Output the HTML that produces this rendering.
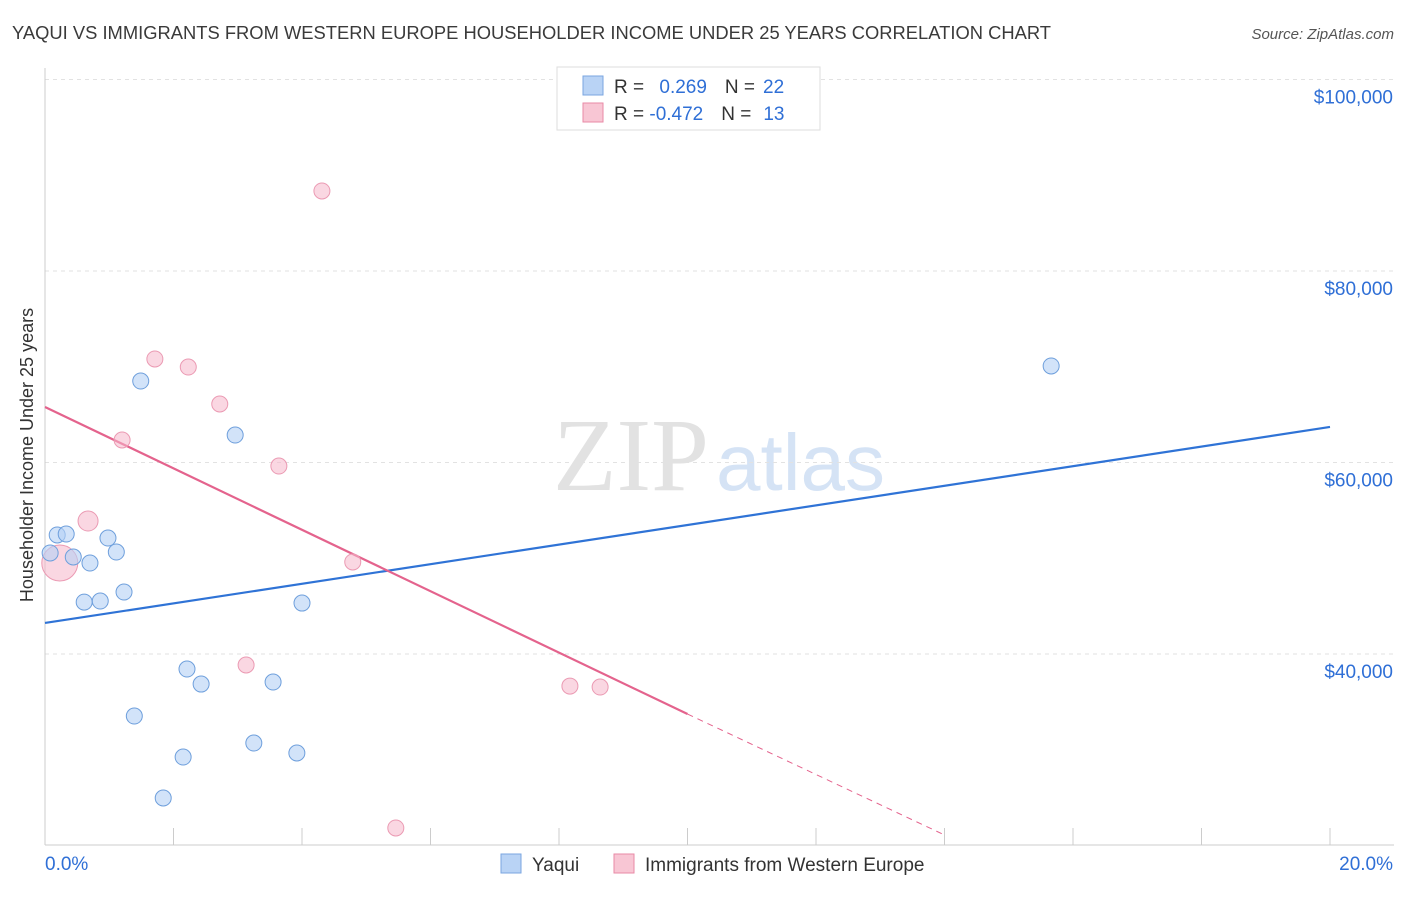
<!DOCTYPE html>
<html><head><meta charset="utf-8"><style>
body{margin:0;background:#fff;font-family:"Liberation Sans",sans-serif;}
svg text{font-family:"Liberation Sans",sans-serif;}
</style></head><body>
<svg id="c" width="1406" height="892" xmlns="http://www.w3.org/2000/svg">
<text x="12" y="39" font-size="18" fill="#3a3a3a" textLength="1039" lengthAdjust="spacingAndGlyphs">YAQUI VS IMMIGRANTS FROM WESTERN EUROPE HOUSEHOLDER INCOME UNDER 25 YEARS CORRELATION CHART</text>
<text x="1394" y="39" font-size="15" fill="#555" text-anchor="end" font-style="italic">Source: ZipAtlas.com</text>
<text x="553" y="490" font-size="104" fill="#e2e2e2" style="font-family:'Liberation Serif',serif">ZIP</text>
<text x="716" y="490" font-size="80" fill="#d5e3f5">atlas</text>
<g id="grid"></g>
<g id="axes"></g>
<g id="lines"></g>
<g id="pts"></g>
<text transform="translate(33,455) rotate(-90)" font-size="18" fill="#333" text-anchor="middle">Householder Income Under 25 years</text>
<g>
<rect x="557" y="67" width="263" height="63" fill="#fff" stroke="#ddd"/>
<rect x="583" y="76" width="20" height="19" fill="#b9d3f5" stroke="#7aa6e0"/>
<rect x="583" y="103" width="20" height="19" fill="#f8c6d4" stroke="#e88aa6"/>
<text x="614" y="93" font-size="19" fill="#333">R = <tspan fill="#2f6fd6" dx="10">0.269</tspan><tspan fill="#333" dx="18">N =</tspan><tspan fill="#2f6fd6" dx="8">22</tspan></text>
<text x="614" y="120" font-size="19" fill="#333">R = <tspan fill="#2f6fd6">-0.472</tspan><tspan fill="#333" dx="18">N =</tspan><tspan fill="#2f6fd6" dx="12">13</tspan></text>
</g>
<g>
<rect x="501" y="854" width="20" height="19" fill="#b9d3f5" stroke="#7aa6e0"/>
<text x="532" y="871" font-size="19" fill="#333">Yaqui</text>
<rect x="614" y="854" width="20" height="19" fill="#f8c6d4" stroke="#e88aa6"/>
<text x="645" y="871" font-size="19" fill="#333">Immigrants from Western Europe</text>
</g>
</svg>
<script>
const yTicks=[40000,60000,80000,100000];
const yTickLabels=["$40,000","$60,000","$80,000","$100,000"];
const xEndLabels=["0.0%","20.0%"];
const blueX=[0.08,0.19,0.33,0.44,0.70,0.61,0.86,0.98,1.11,1.23,1.49,2.96,2.21,2.43,3.55,4.00,1.39,3.25,2.15,3.92,1.84,15.66];
const blueY=[50550,52430,52530,50130,49500,45420,45530,52110,50650,46470,68510,62870,38430,36860,37070,45320,33520,30700,29240,29660,24960,70080];
const pinkX=[0.23,0.67,1.20,1.71,2.23,2.72,3.64,4.31,4.79,3.13,8.17,8.64,5.46];
const pinkY=[49500,53890,62350,70810,69970,66110,59630,88360,49610,38850,36650,36550,21830];
const pinkR=[18,10,8,8,8,8,8,8,8,8,8,8,8];
const blueTrend=[[0,43240],[20,63710]];
const pinkTrend=[[0,65800],[10,33730]];
const pinkDash=[[10,33730],[14,21100]];
const NS="http://www.w3.org/2000/svg";
const sx=v=>45+v*64.25, sy=v=>79.5+(100000-v)/104.44;
function mk(t,a,p){const e=document.createElementNS(NS,t);for(const k in a)e.setAttribute(k,a[k]);p.appendChild(e);return e;}
const g=document.getElementById('grid'),ax=document.getElementById('axes'),ln=document.getElementById('lines'),pt=document.getElementById('pts');
yTicks.forEach((v,i)=>{const l=mk('line',{x1:45,x2:1394,y1:sy(v),y2:sy(v),stroke:'#e2e2e2','stroke-dasharray':'4,4'},g);


const t=mk('text',{x:1393,y:sy(v)+24,'font-size':19,fill:'#2f6fd6','text-anchor':'end'},ax);t.textContent=yTickLabels[i];

});
const topGrid=mk('line',{x1:45,x2:1394,y1:sy(100000),y2:sy(100000),stroke:'#e2e2e2','stroke-dasharray':'4,4'},g);


const xa=mk('line',{x1:45,x2:1394,y1:845,y2:845,stroke:'#ccc'},ax);


const ya=mk('line',{x1:45,x2:45,y1:68,y2:845,stroke:'#ccc'},ax);


for(let i=1;i<=10;i++){const tk=mk('line',{x1:sx(i*2),x2:sx(i*2),y1:828,y2:845,stroke:'#ccc'},ax);

}
[[0,'start'],[20,'end']].forEach((d,i)=>{const t=mk('text',{x:i?1393:45,y:870,'font-size':19,fill:'#2f6fd6','text-anchor':d[1]},ax);t.textContent=xEndLabels[i];

});
const bl=mk('line',{x1:sx(blueTrend[0][0]),y1:sy(blueTrend[0][1]),x2:sx(blueTrend[1][0]),y2:sy(blueTrend[1][1]),stroke:'#2f73d6','stroke-width':2.2},ln);


const pl=mk('line',{x1:sx(pinkTrend[0][0]),y1:sy(pinkTrend[0][1]),x2:sx(pinkTrend[1][0]),y2:sy(pinkTrend[1][1]),stroke:'#e4638d','stroke-width':2.2},ln);


const pd=mk('line',{x1:sx(pinkDash[0][0]),y1:sy(pinkDash[0][1]),x2:sx(pinkDash[1][0]),y2:sy(pinkDash[1][1]),stroke:'#e4638d','stroke-width':1,'stroke-dasharray':'6,5'},ln);


pinkX.forEach((x,i)=>{const c=mk('circle',{cx:sx(x),cy:sy(pinkY[i]),r:pinkR[i],fill:'rgba(246,182,202,0.55)',stroke:'#eb9ab3','stroke-width':1},pt);

});
blueX.forEach((x,i)=>{const c=mk('circle',{cx:sx(x),cy:sy(blueY[i]),r:8,fill:'rgba(180,208,245,0.6)',stroke:'#6e9fdc','stroke-width':1},pt);

});
</script>
</body></html>
